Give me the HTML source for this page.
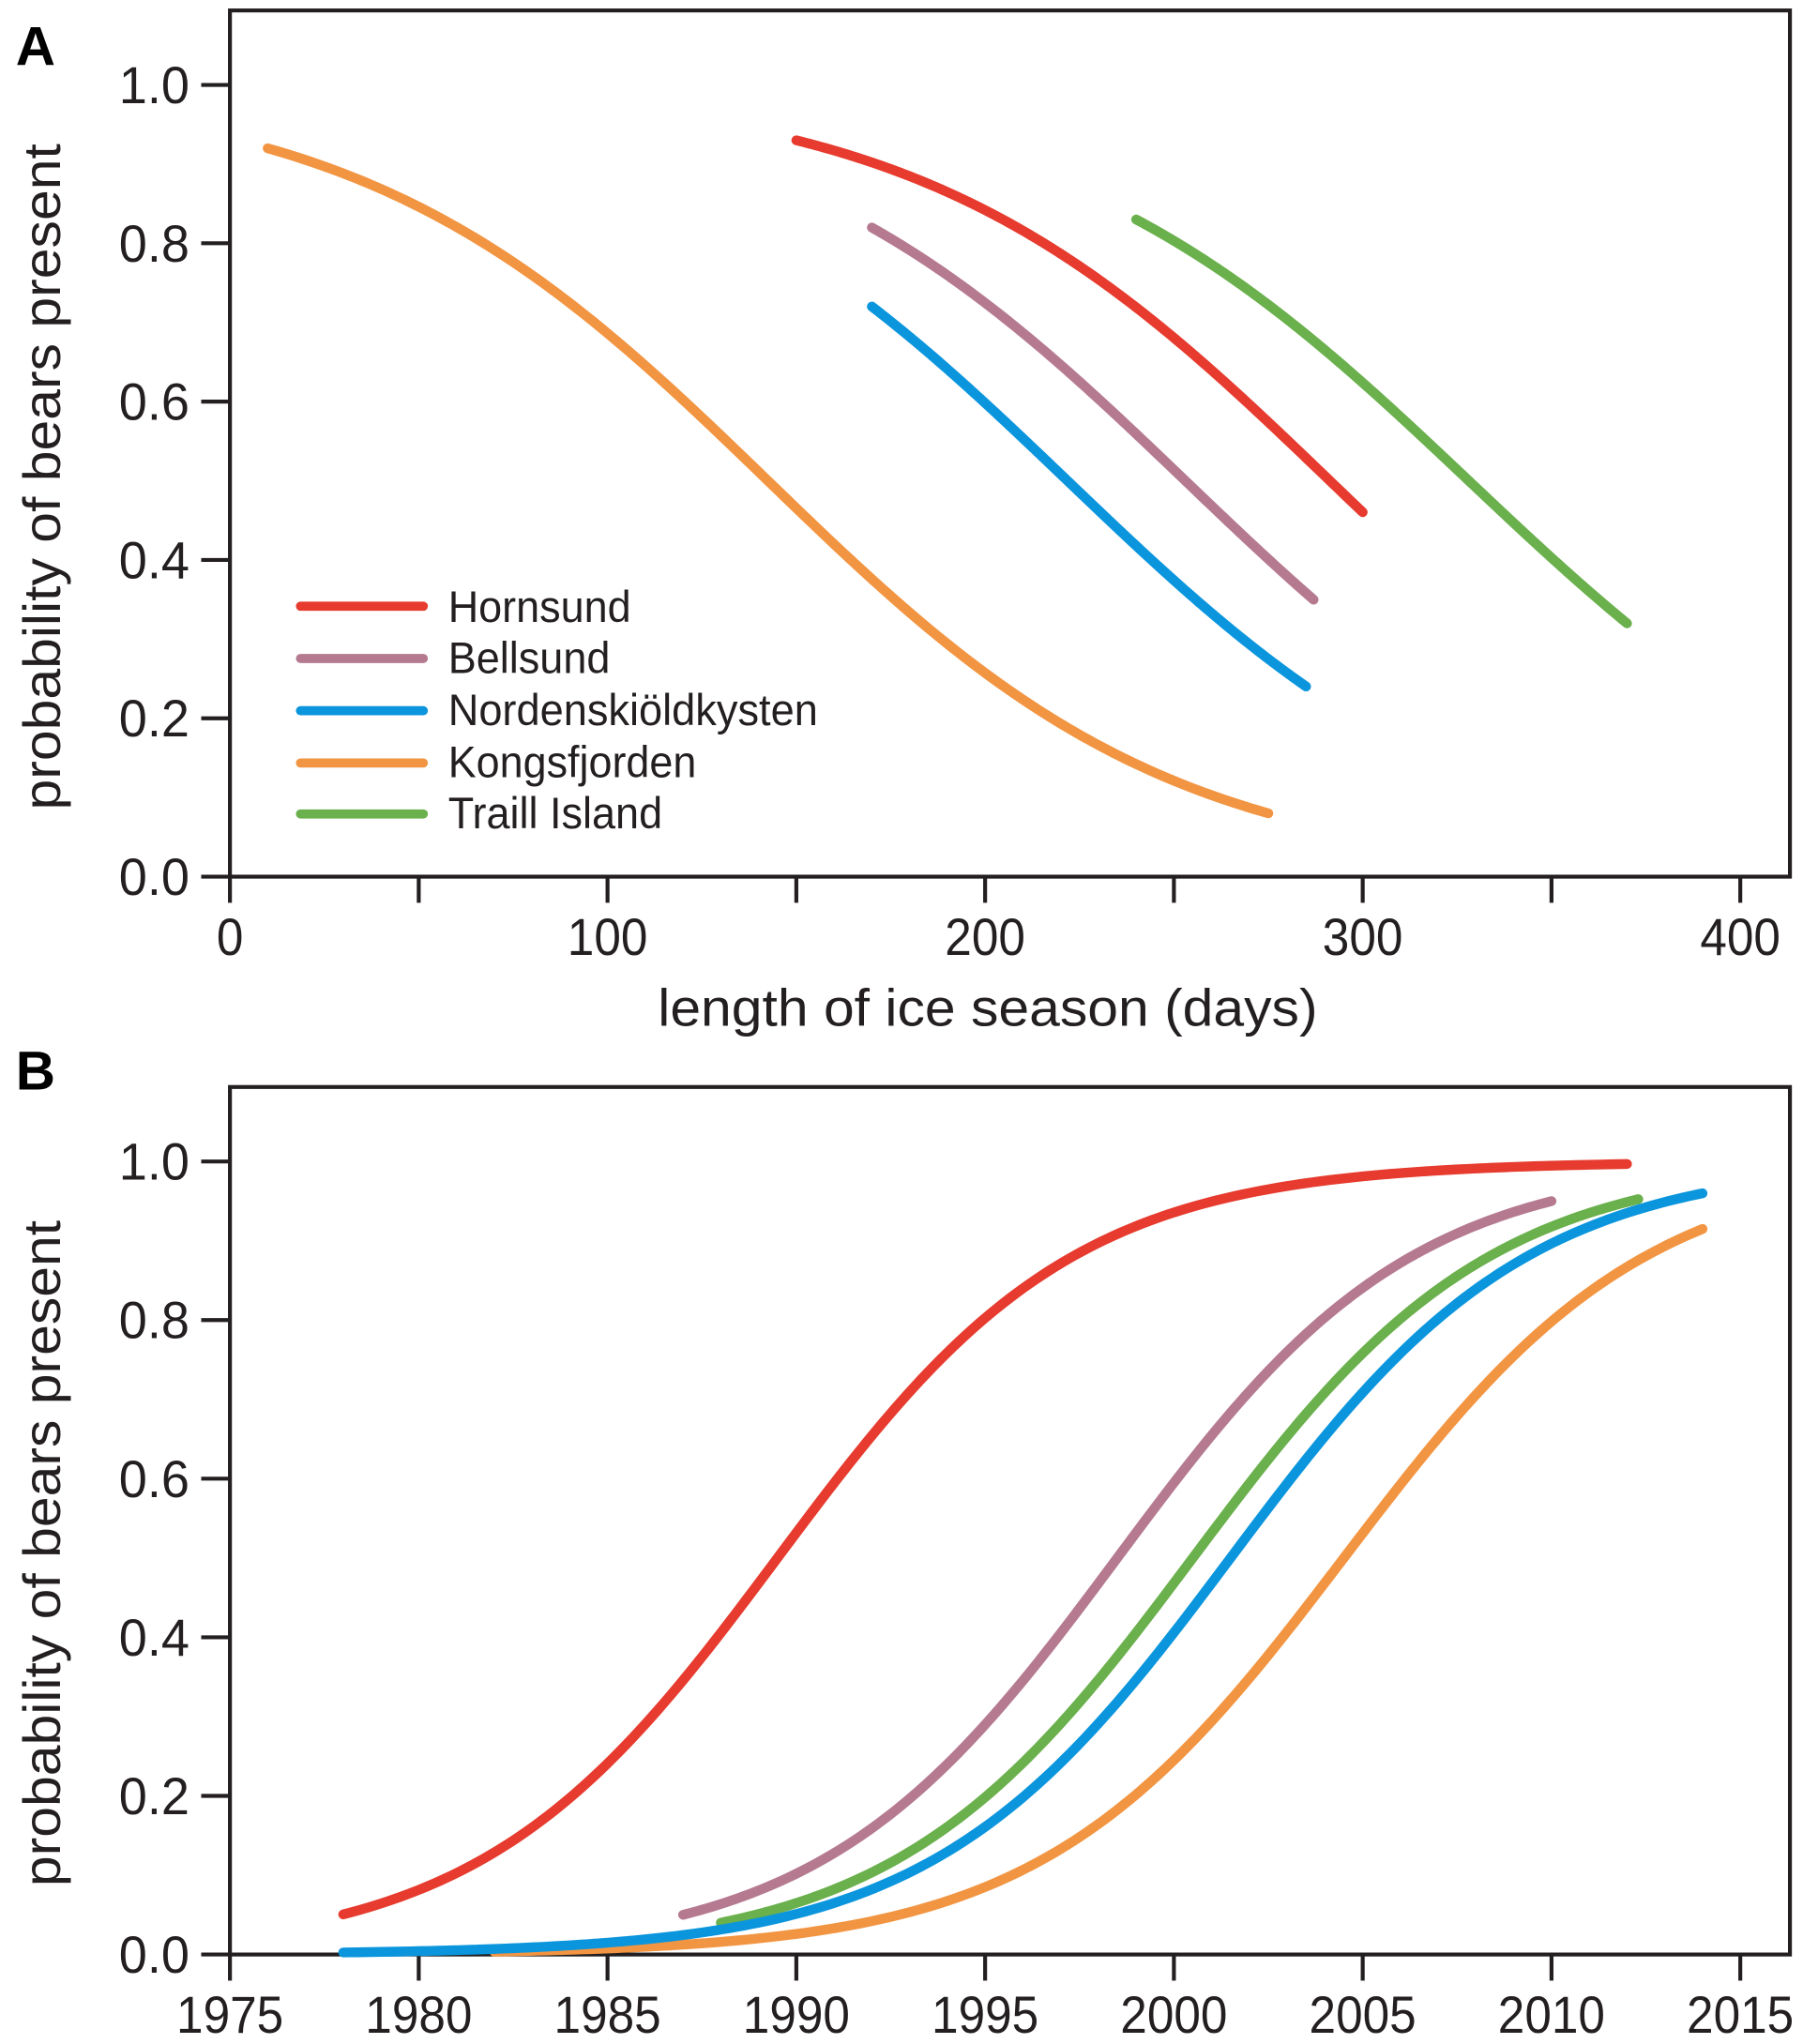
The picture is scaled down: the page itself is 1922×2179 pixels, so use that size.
<!DOCTYPE html>
<html><head><meta charset="utf-8"><style>
html,body{margin:0;padding:0;background:#fff;}
svg{display:block;}
text{font-family:"Liberation Sans",sans-serif;fill:#231f20;}
</style></head><body>
<svg id="s" width="1922" height="2179" viewBox="0 0 1380 1564.5" preserveAspectRatio="none" xmlns="http://www.w3.org/2000/svg">
<rect width="1380" height="1565" fill="#fff"/>
<text x="12" y="50" font-size="42" font-weight="bold" style="fill:#000">A</text>
<text x="12" y="834" font-size="42" font-weight="bold" style="fill:#000">B</text>
<g id="A"></g><g id="B"></g>
<text transform="translate(46,365) rotate(-90)" text-anchor="middle" font-size="40" textLength="510" lengthAdjust="spacingAndGlyphs">probability of bears present</text>
<text transform="translate(46,1189) rotate(-90)" text-anchor="middle" font-size="40" textLength="510" lengthAdjust="spacingAndGlyphs">probability of bears present</text>
<text x="756" y="785" text-anchor="middle" font-size="40" textLength="505" lengthAdjust="spacingAndGlyphs">length of ice season (days)</text>
<g font-size="34">
<line x1="230" y1="464" x2="324" y2="464" stroke="#e63b2e" stroke-width="7" stroke-linecap="round"/>
<text x="343" y="476" textLength="140" lengthAdjust="spacingAndGlyphs">Hornsund</text>
<line x1="230" y1="504" x2="324" y2="504" stroke="#b57a90" stroke-width="7" stroke-linecap="round"/>
<text x="343" y="515" textLength="124" lengthAdjust="spacingAndGlyphs">Bellsund</text>
<line x1="230" y1="544" x2="324" y2="544" stroke="#0a95dd" stroke-width="7" stroke-linecap="round"/>
<text x="343" y="555" textLength="283" lengthAdjust="spacingAndGlyphs">Nordenskiöldkysten</text>
<line x1="230" y1="584" x2="324" y2="584" stroke="#f29542" stroke-width="7" stroke-linecap="round"/>
<text x="343" y="595" textLength="190" lengthAdjust="spacingAndGlyphs">Kongsfjorden</text>
<line x1="230" y1="623" x2="324" y2="623" stroke="#6ab04c" stroke-width="7" stroke-linecap="round"/>
<text x="343" y="634" textLength="164" lengthAdjust="spacingAndGlyphs">Traill Island</text>
</g>
</svg>
<script>
var NS="http://www.w3.org/2000/svg";
function el(p,t,a,txt){var e=document.createElementNS(NS,t);for(var k in a)e.setAttribute(k,a[k]);if(txt!==undefined)e.textContent=txt;p.appendChild(e);return e;}
function panel(g,top,bot,y1,y0,x0,xUnit,xmin,xmax,step,labelEvery,fmt,curves){
 el(g,"rect",{x:176,y:top,width:1194,height:bot-top,fill:"none",stroke:"#231f20","stroke-width":3});
 var py=function(v){return y0+(y1-y0)*v;};
 for(var i=0;i<=5;i++){var v=i*0.2,y=py(v);
  el(g,"line",{x1:154,y1:y,x2:176,y2:y,stroke:"#231f20","stroke-width":3});
  el(g,"text",{x:145,y:y+14,"text-anchor":"end","font-size":40,textLength:54,lengthAdjust:"spacingAndGlyphs"},v.toFixed(1));}
 var px=function(x){return x0+(x-xmin)*xUnit;};
 for(var x=xmin;x<=xmax;x+=step){var X=px(x);
  el(g,"line",{x1:X,y1:bot,x2:X,y2:bot+20,stroke:"#231f20","stroke-width":3});
  if(labelEvery(x)){var s=fmt(x);el(g,"text",{x:X,y:bot+60,"text-anchor":"middle","font-size":40,textLength:s.length*20.5,lengthAdjust:"spacingAndGlyphs"},s);}}
 curves.forEach(function(c){var d="";for(var k=0;k<=200;k++){var x=c.s+(c.e-c.s)*k/200;var p=1/(1+Math.exp(-(c.a+c.b*(x-c.m))));d+=(k?"L":"M")+px(x).toFixed(2)+" "+py(p).toFixed(2);}
  el(g,"path",{d:d,fill:"none",stroke:c.col,"stroke-width":7.5,"stroke-linecap":"round"});});
}
var A=document.getElementById("A"),B=document.getElementById("B");
panel(A,8,671,65,671,176,2.89,0,400,50,function(x){return x%100==0;},function(x){return ""+x;},[
 {col:"#f29542",s:10,e:275,m:0,a:2.626,b:-0.01843},
 {col:"#e63b2e",s:150,e:300,m:0,a:5.334,b:-0.01831},
 {col:"#b57a90",s:170,e:287,m:0,a:4.618,b:-0.01825},
 {col:"#0a95dd",s:170,e:285,m:0,a:4.044,b:-0.01823},
 {col:"#6ab04c",s:240,e:370,m:0,a:5.906,b:-0.018}]);
panel(B,832,1496,889,1496,176,28.9,1975,2015,5,function(){return true;},function(x){return ""+x;},[
 {col:"#e63b2e",s:1978,e:2012,m:1989.5,a:0,b:0.255},
 {col:"#b57a90",s:1987,e:2010,m:1998.5,a:0,b:0.256},
 {col:"#f29542",s:1982,e:2014,m:2004.5,a:0,b:0.25},
 {col:"#6ab04c",s:1988,e:2012.3,m:2000.5,a:0,b:0.254},
 {col:"#0a95dd",s:1978,e:2014,m:2001.5,a:0,b:0.254}]);
</script>
</body></html>
